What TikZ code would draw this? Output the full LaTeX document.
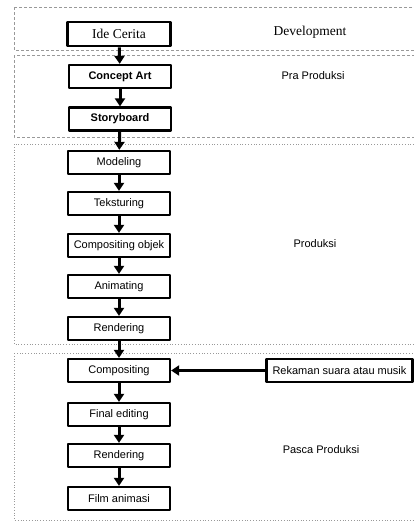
\documentclass[tikz,border=0pt]{standalone}
\usepackage{fontspec}
\setmainfont{Liberation Serif}
\setsansfont{Liberation Sans}
\usetikzlibrary{arrows.meta}
\begin{document}
\begin{tikzpicture}[x=1pt,y=-1pt,line join=round,>={Triangle[length=8pt,width=10pt]}]
\tikzset{stage/.style={draw,line width=2.3pt,minimum width=102pt,minimum height=23pt,inner sep=0pt,font=\sffamily\fontsize{11}{13}\selectfont},
phase/.style={draw=gray!80,line width=0.8pt,dotted},
phase label/.style={font=\sffamily\fontsize{11}{13}\selectfont},
flow/.style={->,line width=3pt}}
\useasboundingbox (0,0) rectangle (414,522);
\clip (0,0) rectangle (414,522);
% fase
\draw[phase,dash pattern=on 3pt off 2pt] (14,7) rectangle (420,50);
\draw[phase,dash pattern=on 3pt off 2pt] (14,55) rectangle (420,137);
\draw[phase] (14,144) rectangle (420,344);
\draw[phase] (14,353) rectangle (420,520);
\node[font=\fontsize{13.5}{15}\selectfont] (dev) at (310,32) {Development};
\node[phase label] (pra) at (313,76) {Pra Produksi};
\node[phase label] (prod) at (315,244) {Produksi};
\node[phase label] (pasca) at (321,450) {Pasca Produksi};
% tahap
\node[stage,line width=2.6pt,minimum width=103pt,minimum height=24pt,font=\fontsize{13.5}{15}\selectfont] (ide) at (119,34) {Ide Cerita};
\node[stage,font=\sffamily\bfseries\fontsize{11}{13}\selectfont] (concept) at (120,76.5) {Concept Art};
\node[stage,font=\sffamily\bfseries\fontsize{11}{13}\selectfont] (story) at (120,119) {Storyboard};
\node[stage] (model) at (119,162.5) {Modeling};
\node[stage] (tekstur) at (119,203.5) {Teksturing};
\node[stage] (compobj) at (119,245.5) {Compositing objek};
\node[stage] (anim) at (119,286.5) {Animating};
\node[stage] (render) at (119,328.5) {Rendering};
\node[stage] (comp) at (119,370.5) {Compositing};
\node[stage] (final) at (119,414.5) {Final editing};
\node[stage] (render2) at (119,455.5) {Rendering};
\node[stage] (film) at (119,498.5) {Film animasi};
\node[stage,minimum width=146pt] (rekaman) at (339.5,370.5) {Rekaman suara atau musik};
% alur
\draw[flow] (ide) -- (concept);
\draw[flow] (concept) -- (story);
\draw[flow] (story) -- (model);
\draw[flow] (model) -- (tekstur);
\draw[flow] (tekstur) -- (compobj);
\draw[flow] (compobj) -- (anim);
\draw[flow] (anim) -- (render);
\draw[flow] (render) -- (comp);
\draw[flow] (comp) -- (final);
\draw[flow] (final) -- (render2);
\draw[flow] (render2) -- (film);
\draw[flow] (rekaman) -- (comp);
\end{tikzpicture}
\end{document}
